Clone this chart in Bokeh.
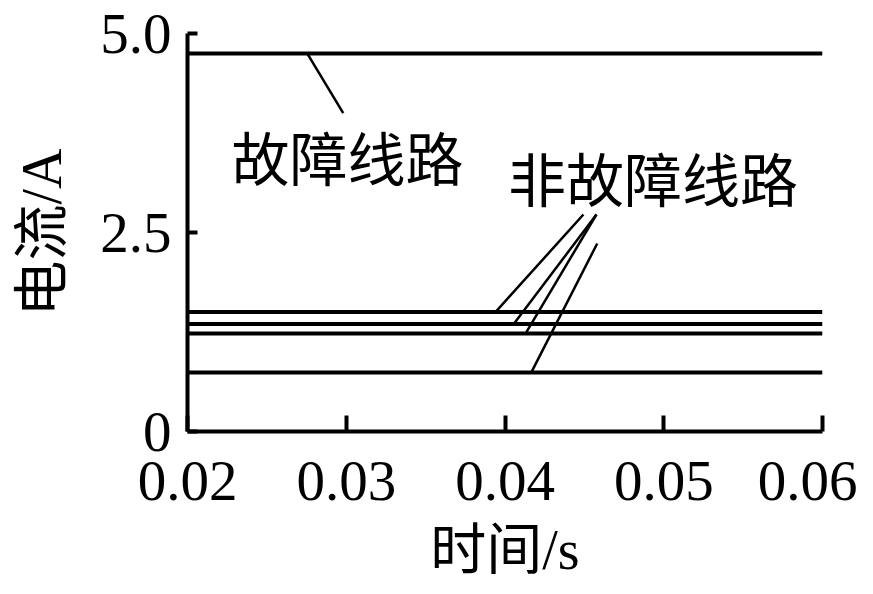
from bokeh.plotting import figure
from bokeh.models import Range1d, FixedTicker, Label
from bokeh.embed import file_html
from bokeh.resources import INLINE

# data
time_s = [0.02, 0.03, 0.04, 0.05, 0.06]
fault_current = [4.75, 4.75, 4.75, 4.75, 4.75]
nonfault_currents = [
    [1.50, 1.50, 1.50, 1.50, 1.50],
    [1.35, 1.35, 1.35, 1.35, 1.35],
    [1.23, 1.23, 1.23, 1.23, 1.23],
    [0.74, 0.74, 0.74, 0.74, 0.74],
]
x_ticks = [0.02, 0.03, 0.04, 0.05, 0.06]
x_tick_labels = ["0.02", "0.03", "0.04", "0.05", "0.06"]
y_ticks = [0, 2.5, 5.0]
y_tick_labels = ["0", "2.5", "5.0"]

SERIF = "Liberation Serif, Noto Sans CJK SC"
CJK = "Noto Sans CJK SC"

p = figure(width=857, height=586, output_backend="svg", toolbar_location=None,
           x_range=Range1d(0.02, 0.06), y_range=Range1d(0, 5.0),
           min_border_left=187, min_border_right=35, min_border_top=33,
           min_border_bottom=155)
p.outline_line_color = None
p.grid.visible = False
p.background_fill_color = "white"
p.border_fill_color = "white"

# lines
p.line(time_s, fault_current, line_color="black", line_width=4)
for ys in nonfault_currents:
    p.line(time_s, ys, line_color="black", line_width=4)

# leader lines (annotation positions)
p.segment(x0=[0.02754], y0=[4.75], x1=[0.02981], y1=[4.0],
          line_color="black", line_width=2.5)
p.segment(x0=[0.03940, 0.04055, 0.04129, 0.04165],
          y0=[1.50, 1.35, 1.23, 0.74],
          x1=[0.04494, 0.04576, 0.04576, 0.04581],
          y1=[2.726, 2.726, 2.726, 2.362],
          line_color="black", line_width=2.5)

p.add_layout(Label(x=0.03008, y=3.467, text="故障线路", text_font=CJK,
                   text_font_size="58px", text_align="center",
                   text_baseline="middle", text_color="black"))
p.add_layout(Label(x=0.04932, y=3.20, text="非故障线路", text_font=CJK,
                   text_font_size="58px", text_align="center",
                   text_baseline="middle", text_color="black"))

# axes
for ax in (p.xaxis[0], p.yaxis[0]):
    ax.axis_line_width = 4
    ax.axis_line_color = "black"
    ax.major_tick_line_width = 4
    ax.major_tick_line_color = "black"
    ax.minor_tick_line_color = None
    ax.major_tick_out = 0
    ax.major_label_text_font = SERIF
    ax.major_label_text_font_size = "57px"
    ax.major_label_text_color = "black"
    ax.axis_label_text_font = SERIF
    ax.axis_label_text_font_size = "56px"
    ax.axis_label_text_font_style = "normal"
    ax.axis_label_text_color = "black"

p.xaxis.ticker = FixedTicker(ticks=x_ticks)
p.xaxis.major_label_overrides = dict(zip(x_ticks, x_tick_labels))
p.xaxis.major_tick_in = 16
p.xaxis.major_label_standoff = 30
p.xaxis.axis_label = "时间/s"
p.xaxis.axis_label_standoff = 16

p.yaxis.ticker = FixedTicker(ticks=y_ticks)
p.yaxis.major_label_overrides = dict(zip(y_ticks, y_tick_labels))
p.yaxis.major_tick_in = 10
p.yaxis.major_label_standoff = 16
p.yaxis.axis_label = "电流/A"
p.yaxis.axis_label_standoff = 24

open("out.html", "w").write(file_html(p, INLINE))
